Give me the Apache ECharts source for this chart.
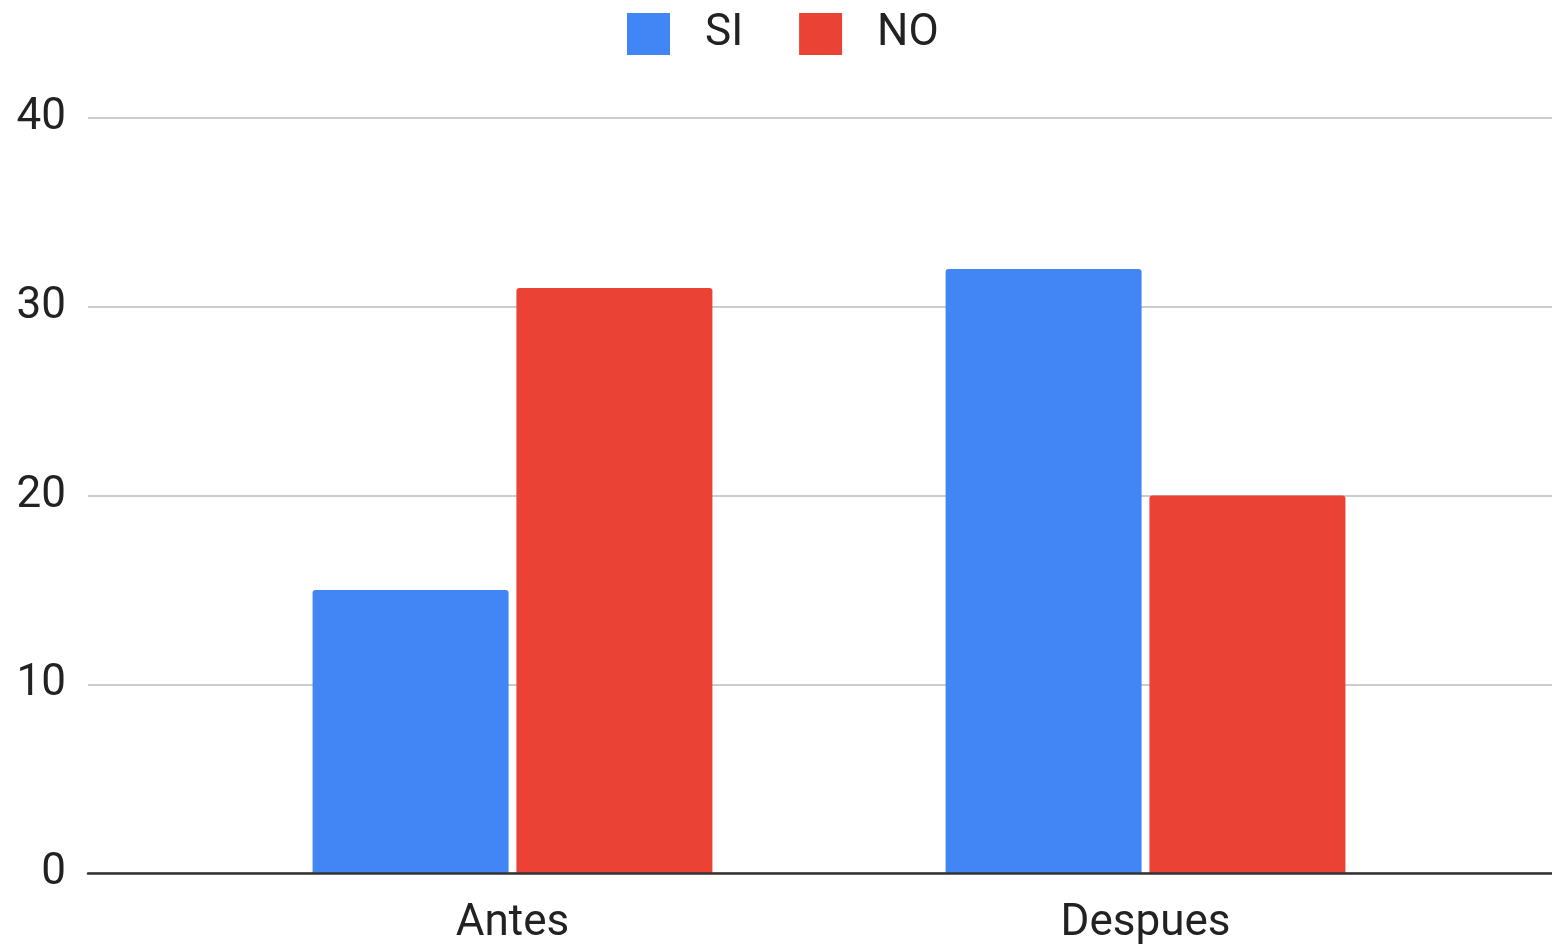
<!DOCTYPE html>
<html>
<head>
<meta charset="utf-8">
<script src="https://cdn.jsdelivr.net/npm/echarts@6/dist/echarts.min.js"></script>
<style>
  html, body { margin: 0; padding: 0; background: #fff; }
  #chart { width: 1552px; height: 947px; }
</style>
</head>
<body>
<div id="chart"></div>
<script>
// Survey answers before and after
const categories = ['Antes', 'Despues'];
const seriesNames = ['SI', 'NO'];
const siValues = [15, 32];
const noValues = [31, 20];
const yTicks = [0, 10, 20, 30, 40];

const FONT = 'Roboto, "Liberation Sans", Arial, sans-serif';
const TEXT = '#222222';

const chart = echarts.init(document.getElementById('chart'));
chart.setOption({
  backgroundColor: '#ffffff',
  animation: false,
  color: ['#4285F4', '#EA4335'],
  legend: {
    data: seriesNames,
    top: 12,
    left: 627,
    padding: 0,
    icon: 'rect',
    itemWidth: 43,
    itemHeight: 42,
    itemGap: 56,
    textStyle: { fontFamily: FONT, fontSize: 44, color: TEXT, padding: [4, 0, 0, 30] }
  },
  grid: [
    // frame grid: gridlines and baseline span the full width
    { left: 88, right: 0, top: 118, bottom: 74 },
    // category grid: where the bar groups sit
    { left: 196, right: 90, top: 118, bottom: 74 }
  ],
  xAxis: [
    {
      gridIndex: 0, type: 'category', data: [''], z: 10,
      axisLine: { show: true, lineStyle: { color: '#333333', width: 2.5 } },
      axisTick: { show: false }, axisLabel: { show: false }, splitLine: { show: false }
    },
    {
      gridIndex: 1, type: 'category', data: categories,
      axisLine: { show: false }, axisTick: { show: false },
      axisLabel: { fontFamily: FONT, fontSize: 44, color: TEXT, margin: 29 }
    }
  ],
  yAxis: [
    {
      gridIndex: 0, type: 'value', min: yTicks[0], max: yTicks[yTicks.length - 1], interval: 10,
      axisLine: { show: false }, axisTick: { show: false },
      axisLabel: { fontFamily: FONT, fontSize: 44, color: TEXT, margin: 22, padding: [8, 0, 0, 0] },
      splitLine: { lineStyle: { color: '#cccccc', width: 2 } }
    },
    {
      gridIndex: 1, type: 'value', min: 0, max: 40, interval: 10,
      axisLine: { show: false }, axisTick: { show: false },
      axisLabel: { show: false }, splitLine: { show: false }
    }
  ],
  series: [
    {
      name: seriesNames[0], type: 'bar', xAxisIndex: 1, yAxisIndex: 1,
      data: siValues, barWidth: 196, barGap: '4%',
      itemStyle: { borderRadius: [3, 3, 0, 0] }
    },
    {
      name: seriesNames[1], type: 'bar', xAxisIndex: 1, yAxisIndex: 1,
      data: noValues, barWidth: 196, barGap: '4%',
      itemStyle: { borderRadius: [3, 3, 0, 0] }
    }
  ]
});
</script>
</body>
</html>
